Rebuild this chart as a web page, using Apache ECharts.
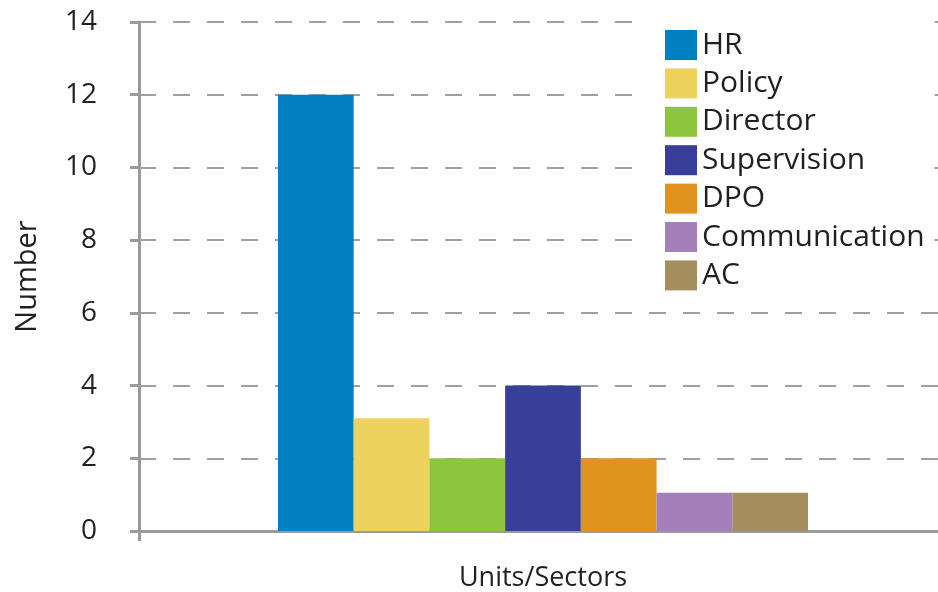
<!DOCTYPE html>
<html>
<head>
<meta charset="utf-8">
<script src="https://cdn.jsdelivr.net/npm/echarts@6/dist/echarts.min.js"></script>
<style>
  html, body { margin: 0; padding: 0; background: #fff; }
  #chart { width: 938px; height: 592px; }
</style>
</head>
<body>
<div id="chart"></div>
<script>
// data
const categories = ["Units/Sectors"];
const seriesNames = ["HR", "Policy", "Director", "Supervision", "DPO", "Communication", "AC"];
const seriesValues = [12, 3.1, 2, 4, 2, 1.05, 1.05];
const colors = ["#0080c0", "#edd25e", "#8cc63f", "#383f98", "#e0931f", "#a57fb9", "#a48e5e"];

const font = "Open Sans";
const axisGrey = "#9a9a9a";
const textColor = "#231f20";

const myChart = echarts.init(document.getElementById("chart"));

const option = {
    animation: false,
    textStyle: { fontFamily: font },
    grid: {
        left: 139,
        right: -9,
        top: 22,
        bottom: 61,
        outerBoundsMode: "none",
        containLabel: false,
    },
    legend: {
        orient: "vertical",
        left: 640,
        top: 18,
        padding: [12, 10, 12, 25],
        backgroundColor: "#fff",
        itemWidth: 32,
        itemHeight: 30,
        itemGap: 8.4,
        icon: "rect",
        textStyle: { fontSize: 30, color: textColor, fontFamily: font },
        data: seriesNames,
    },
    xAxis: {
        type: "category",
        data: categories,
        name: "Units/Sectors",
        nameLocation: "middle",
        nameGap: 34,
        nameTextStyle: { fontSize: 27, color: textColor, fontFamily: font },
        axisLabel: { show: false },
        axisLine: { lineStyle: { color: axisGrey, width: 3 } },
        axisTick: { show: true, length: 10, lineStyle: { color: axisGrey, width: 3 } },
    },
    yAxis: {
        type: "value",
        min: 0,
        max: 14,
        interval: 2,
        name: "Number",
        nameLocation: "middle",
        nameGap: 97,
        nameRotate: 90,
        nameTextStyle: { fontSize: 29, color: textColor, fontFamily: font },
        axisLine: { show: true, lineStyle: { color: axisGrey, width: 3 } },
        axisTick: { show: true, length: 9, lineStyle: { color: axisGrey, width: 3 } },
        axisLabel: { fontSize: 28, color: textColor, margin: 42, fontFamily: font },
        splitLine: {
            show: true,
            lineStyle: { color: "#a0a0a0", width: 2, type: [17, 17] },
        },
    },
    series: seriesNames.map((name, index) => {
        return {
            name: name,
            type: "bar",
            barGap: "0%",
            barCategoryGap: "34.4%",
            itemStyle: { color: colors[index] },
            data: [seriesValues[index]],
        };
    }),
};

myChart.setOption(option);
</script>
</body>
</html>
